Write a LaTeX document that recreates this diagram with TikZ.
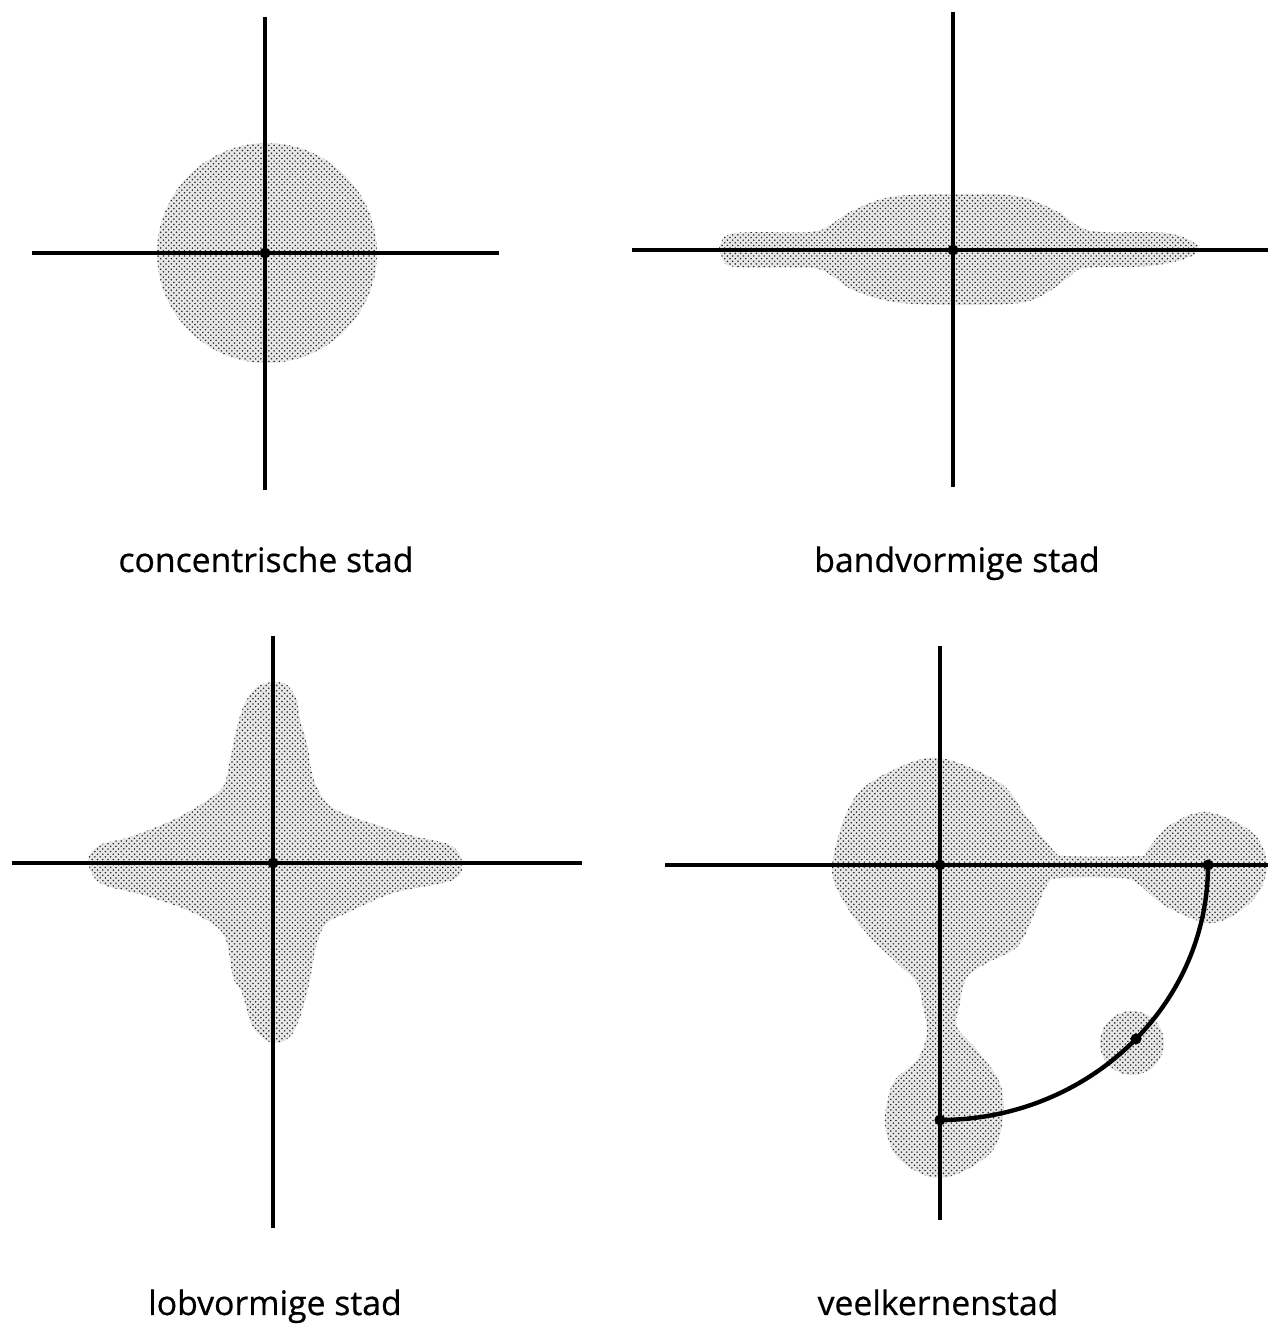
\documentclass[tikz,border=0pt]{standalone}
\usepackage{fontspec}
\setmainfont{Open Sans}[AutoFakeBold=0.6]
\usetikzlibrary{patterns}

\begin{document}
\begin{tikzpicture}[x=0.02cm, y=0.02cm]
    \tikzset{axisline/.style={line width=2pt}}
    \tikzset{city/.style={fill=black!9, postaction={pattern=crosshatch dots, pattern color=black!85}}}
    \tikzset{cityname/.style={anchor=base, inner sep=0pt, font=\fontsize{19.2}{23}\selectfont\bfseries}}

    \useasboundingbox (0,0) rectangle (1268,1326);

    % concentrische stad
    \begin{scope}[shift={(265,1073)}]
        \fill[city] (2,0) circle (110);
        \draw[axisline] (0,236) -- (0,-237);
        \draw[axisline] (-233,0) -- (234,0);
        \coordinate (c1) at (0,0);
        \fill (c1) circle (5.5);
        \node[cityname] (n1) at (1,-319) {concentrische stad};
    \end{scope}

    % bandvormige stad
    \begin{scope}[shift={(953,1076)}]
        \fill[city] plot[smooth cycle, tension=0.55] coordinates {(-233,5) (-218,17) (-143,18) (-123,25) (-103,38) (-63,53) (0,56) (64,54) (105,38) (125,24) (147,18) (214,17) (244,5) (237,-7) (197,-16) (132,-18) (115,-28) (95,-42) (67,-53) (0,-55) (-60,-52) (-100,-40) (-118,-28) (-141,-18) (-218,-17) (-231,-7)};
        \draw[axisline] (0,238) -- (0,-237);
        \draw[axisline] (-321,0) -- (315,0);
        \coordinate (c2) at (0,0);
        \fill (c2) circle (5.5);
        \node[cityname] (n2) at (4,-322) {bandvormige stad};
    \end{scope}

    % lobvormige stad
    \begin{scope}[shift={(273,463)}]
        \fill[city] plot[smooth cycle, tension=0.55] coordinates {(0,181) (14,178) (24,163) (27,143) (34,120) (40,86) (54,60) (80,46) (137,28) (177,18) (189,1) (180,-17) (120,-30) (74,-50) (54,-60) (44,-80) (34,-130) (20,-170) (0,-180) (-20,-164) (-31,-130) (-40,-114) (-46,-80) (-56,-64) (-86,-47) (-130,-32) (-173,-20) (-185,3) (-173,18) (-143,26) (-100,43) (-70,60) (-50,76) (-43,103) (-36,136) (-28,160) (-16,176)};
        \draw[axisline] (0,227) -- (0,-365);
        \draw[axisline] (-261,0) -- (309,0);
        \coordinate (c3) at (0,0);
        \fill (c3) circle (5.5);
        \node[cityname] (n3) at (2,-452) {lobvormige stad};
    \end{scope}

    % veelkernenstad
    \begin{scope}[shift={(940,461)}]
        \fill[city] plot[smooth cycle, tension=0.55] coordinates {(0,107) (60,82) (87,48) (113,15) (127,9) (200,9) (207,15) (230,40) (267,53) (313,32) (327,-1) (313,-35) (273,-58) (227,-42) (197,-18) (180,-13) (120,-13) (107,-20) (93,-52) (77,-82) (47,-98) (27,-112) (20,-138) (17,-162) (37,-185) (60,-218) (63,-252) (53,-285) (20,-308) (-10,-312) (-43,-292) (-55,-258) (-47,-218) (-23,-195) (-13,-168) (-17,-142) (-23,-118) (-43,-98) (-70,-72) (-93,-42) (-108,-2) (-87,65) (-47,95)};
        \fill[city] (192,-178) circle (32);
        \draw[axisline] (0,219) -- (0,-355);
        \draw[axisline] (-275,0) -- (328,0);
        \coordinate (c4) at (0,0);
        \coordinate (k1) at (0,-255);
        \coordinate (k2) at (-43:268 and 255);
        \coordinate (k3) at (268,0);
        \draw[line width=2.5pt] (k1) arc[start angle=-90, end angle=0, x radius=268, y radius=255];
        \foreach \k in {c4,k1,k2,k3} \fill (\k) circle (5.5);
        \node[cityname] (n4) at (-2,-450) {veelkernenstad};
    \end{scope}
\end{tikzpicture}
\end{document}
